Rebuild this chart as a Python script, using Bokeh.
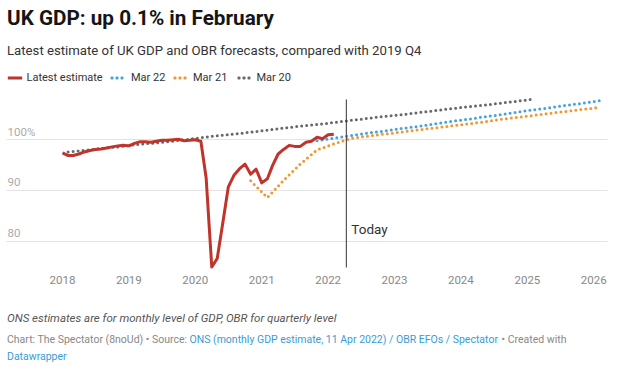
import pandas as pd
from bokeh.plotting import figure
from bokeh.models import (Range1d, FixedTicker, DatetimeTickFormatter, Label,
                          BoxAnnotation)
from bokeh.core.properties import value
from bokeh.embed import file_html
from bokeh.resources import INLINE

# ---------------- data ----------------
latest_start = "2018-01-01"   # monthly, Jan 2018 - Feb 2022 (2019 Q4 = 100)
latest = [97.4, 96.9, 96.9, 97.2, 97.6, 97.9, 98.1, 98.2, 98.4, 98.6, 98.8, 98.9,
          98.8, 99.3, 99.6, 99.6, 99.5, 99.7, 99.9, 99.9, 100.0, 100.1, 99.8, 99.9,
          100.0, 99.7, 92.5, 74.9, 76.6, 83.7, 90.7, 93.0, 94.3, 95.2, 93.2, 94.2,
          91.5, 92.3, 94.9, 97.2, 98.1, 98.9, 98.7, 98.7, 99.5, 99.7, 100.5, 100.2,
          101.0, 101.1]

mar22_start = "2021-11-01"    # quarterly, Q4 2021 - Q1 2026
mar22 = [99.8, 100.3, 100.8, 101.3, 101.7, 102.2, 102.6, 103.1, 103.6, 104.0,
         104.5, 104.9, 105.4, 105.9, 106.3, 106.8, 107.2, 107.7]

mar21_start = "2020-11-01"    # quarterly, Q4 2020 - Q1 2026
mar21 = [91.9, 88.6, 92.0, 95.2, 98.0, 99.2, 100.2, 100.7, 101.1, 101.5, 101.9,
         102.3, 102.7, 103.1, 103.5, 104.0, 104.4, 104.8, 105.2, 105.6, 106.0, 106.4]

mar20_start = "2018-02-01"    # quarterly, Q1 2018 - Q1 2025
mar20 = [97.6, 97.9, 98.3, 98.6, 99.0, 99.3, 99.6, 100.0, 100.4, 100.8, 101.1,
         101.5, 101.9, 102.3, 102.7, 103.0, 103.4, 103.8, 104.2, 104.6, 104.9,
         105.3, 105.7, 106.1, 106.5, 106.8, 107.2, 107.6, 108.0]

series_names = ["Latest estimate", "Mar 22", "Mar 21", "Mar 20"]
year_ticks = [2018, 2019, 2020, 2021, 2022, 2023, 2024, 2025, 2026]
y_ticks = [80, 90, 100]
y_tick_labels = ["80", "90", "100%"]
today = "2022-04-11"

RED, BLUE, ORANGE, GREY = "#c0342c", "#44a3da", "#f5962f", "#686868"
FONT = "Roboto"
W, H = 620, 370

months = pd.date_range(latest_start, periods=len(latest), freq="MS")
q22 = pd.date_range(mar22_start, periods=len(mar22), freq="3MS")
q21 = pd.date_range(mar21_start, periods=len(mar21), freq="3MS")
q20 = pd.date_range(mar20_start, periods=len(mar20), freq="3MS")
today_ms = pd.Timestamp(today).value / 1e6

def ms(ts):
    return pd.Timestamp(ts).value / 1e6

# plot frame covers the whole canvas; ranges chosen so the chart area sits
# where the reference has it
x_start, x_end = pd.Timestamp("2017-01-25"), pd.Timestamp("2026-05-28")
y_start, y_end = 54.50, 127.47
grid_left, grid_right = ms("2017-02-27"), ms("2026-03-18")
area_bottom, area_top = 74.81, 107.95
axis_at = 75.01

p = figure(width=W, height=H, x_axis_type="datetime",
           x_range=Range1d(x_start, x_end), y_range=Range1d(y_start, y_end),
           output_backend="svg", toolbar_location=None, y_axis_location=None,
           min_border=0, min_border_left=0, min_border_right=0,
           min_border_top=0, min_border_bottom=0)
p.outline_line_color = None
p.background_fill_color = "white"
p.border_fill_color = "white"
p.xgrid.visible = False
for g in p.ygrid:
    g.ticker = FixedTicker(ticks=y_ticks)
    g.grid_line_color = "#e3e3e3"
    g.cross_bounds = (grid_left, grid_right)

xa = p.xaxis[0]
xa.fixed_location = axis_at
xa.ticker = FixedTicker(ticks=[ms(f"{y}-01-01") for y in year_ticks])
xa.formatter = DatetimeTickFormatter(years="%Y", months="%Y", days="%Y",
                                     hours="%Y", minutes="%Y")
xa.axis_line_color = None
xa.major_tick_line_color = None
xa.minor_tick_line_color = None
xa.major_label_text_font = FONT
xa.major_label_text_font_size = "11.5px"
xa.major_label_text_color = "#888888"
xa.major_label_standoff = 3

# y tick labels sitting on the gridlines
p.text(x=[grid_left] * len(y_ticks), y=y_ticks, text=y_tick_labels,
       text_font=value(FONT), text_font_size=value("11.5px"), text_color="#aaaaaa",
       text_baseline="alphabetic", x_offset=1, y_offset=-8)

dot = dict(line_width=3, line_dash="0 5", line_cap="round")
p.line(q20, mar20, line_color=GREY, **dot)
p.line(q21, mar21, line_color=ORANGE, **dot)
p.line(q22, mar22, line_color=BLUE, **dot)
p.line(months, latest, line_color=RED, line_width=3, line_join="round")

p.segment(x0=[today_ms], y0=[area_bottom], x1=[today_ms], y1=[area_top],
          line_color="#333333", line_width=1)
p.add_layout(Label(x=today_ms, y=82.47, x_offset=5, text="Today", text_font=FONT,
                   text_font_size="13.5px", text_color="#333333",
                   text_baseline="alphabetic"))

# ---------- header / legend / footer (screen units) ----------
def ry(Y):
    return H - Y

def lab(text, X, Y, size, color, style="normal"):
    p.add_layout(Label(x=X, y=ry(Y), x_units="screen", y_units="screen",
                       text=text, text_font=FONT, text_font_size=size,
                       text_color=color, text_font_style=style,
                       text_baseline="alphabetic"))

lab("UK GDP: up 0.1% in February", 6.5, 17.5, "20.7px", "#151515", "bold")
lab("Latest estimate of UK GDP and OBR forecasts, compared with 2019 Q4", 6.5, 49.5,
    "13.2px", "#333333")

# legend
leg_y = 77.5
def box(x0, x1, color, radius=0):
    p.add_layout(BoxAnnotation(left=x0, right=x1, bottom=ry(leg_y + 1.5),
                               top=ry(leg_y - 1.5), left_units="screen",
                               right_units="screen", top_units="screen",
                               bottom_units="screen", fill_color=color,
                               fill_alpha=1, line_color=None, border_radius=radius))

box(7.3, 21.7, RED)
for cx0, col in [(111.5, BLUE), (174.5, ORANGE), (238.5, GREY)]:
    for k in range(3):
        c = cx0 + 5 * k
        box(c - 1.5, c + 1.5, col, 1)
for name, X in zip(series_names, [26, 130.5, 192.5, 256]):
    lab(name, X, 76.7, "11px", "#333333")

# footer
lab("ONS estimates are for monthly level of GDP, OBR for quarterly level", 6.5, 317,
    "11.5px", "#555555", "italic")
lab("Chart: The Spectator (8noUd) \u2022 Source: ", 6.5, 339, "10.5px", "#888888")
lab("ONS (monthly GDP estimate, 11 Apr 2022) / OBR EFOs / Spectator", 189, 339,
    "10.5px", "#3a9bd5")
lab("\u2022 Created with", 501, 339, "10.5px", "#888888")
lab("Datawrapper", 6.5, 356, "10.5px", "#3a9bd5")

open("out.html", "w").write(file_html(p, INLINE))
